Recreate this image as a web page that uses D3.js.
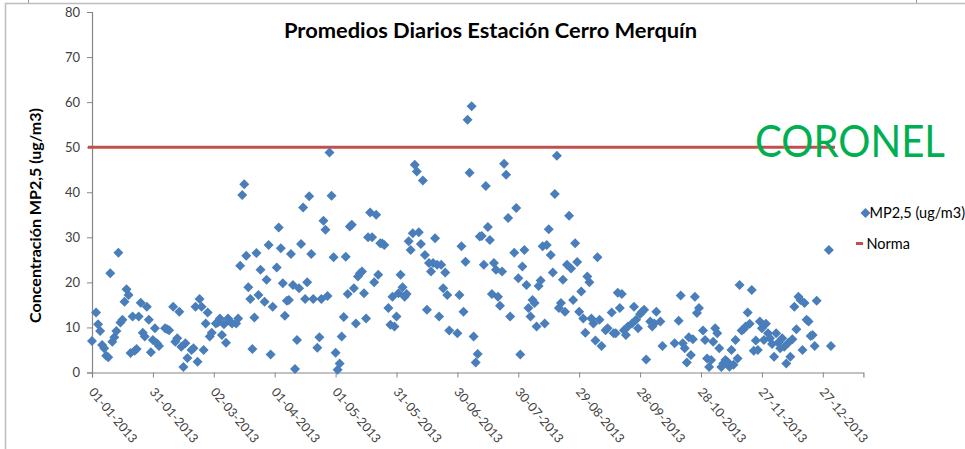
<!DOCTYPE html>
<html><head><meta charset="utf-8">
<script src="https://cdn.jsdelivr.net/npm/d3@7"></script>
<style>
html,body{margin:0;padding:0;background:#fff;}
svg{display:block;}
text{font-family:Lato,"Open Sans",sans-serif;}
</style></head>
<body>
<svg id="chart" width="965" height="449"></svg>
<script>
// ---- data ----
const startDate = "2013-01-01";
const dayOffsets = [0,2,3,4,5,6,7,8,9,10,11,12,13,14,15,16,17,18,19,20,21,22,23,24,25,26,27,28,29,30,31,32,33,36,37,38,40,41,42,43,44,45,46,47,49,50,51,52,53,54,55,56,57,58,59,61,62,63,64,65,66,67,68,69,71,72,73,74,75,76,77,78,79,80,81,82,83,85,86,87,88,89,91,92,93,94,95,96,97,98,99,100,101,102,103,104,105,106,107,108,109,111,112,113,114,115,116,117,118,119,120,121,122,123,124,125,126,127,128,129,130,131,132,133,134,135,136,137,138,139,140,141,142,143,144,146,147,148,149,150,151,152,153,154,155,156,157,158,159,160,161,162,163,164,165,166,167,168,169,170,171,172,173,174,175,176,180,181,182,183,184,185,186,187,188,189,190,191,192,193,194,195,196,197,198,199,200,201,202,203,204,205,206,208,209,210,211,212,213,214,215,216,217,218,219,220,221,222,223,224,225,226,227,228,229,230,231,232,233,234,235,236,237,238,239,240,241,242,243,244,245,246,247,248,249,250,251,253,254,256,257,258,259,260,261,262,263,264,266,267,268,269,270,271,272,273,275,276,277,278,280,281,287,289,290,291,292,293,294,295,296,297,298,299,301,302,303,304,305,306,307,308,309,310,311,312,313,314,315,316,317,318,319,320,321,322,323,324,325,326,327,328,329,330,331,332,333,334,335,336,337,338,339,340,341,342,343,344,345,346,347,348,349,350,351,352,353,354,355,356,357,363,364];
const mp25 = [7.0,13.3,10.7,9.2,6.1,5.4,3.7,3.4,22.0,6.8,7.8,9.2,26.6,11.1,11.7,15.7,18.5,17.2,4.3,12.4,4.8,5.2,12.4,15.5,8.8,8.0,14.6,11.7,4.5,7.2,9.8,6.5,5.9,9.8,9.6,9.4,14.6,6.8,7.6,13.5,5.7,1.2,6.5,3.2,5.0,5.4,14.6,2.4,16.3,14.6,5.0,10.9,13.3,8.0,8.8,10.9,11.1,12.0,8.3,10.7,6.6,12.0,11.3,10.9,10.9,12.0,23.7,39.4,41.8,25.9,18.9,16.3,5.2,12.2,26.5,17.2,22.8,15.7,20.6,28.3,4.0,14.6,23.3,32.2,27.6,19.8,12.6,15.9,16.1,26.3,19.4,0.8,7.2,18.7,28.5,36.6,16.3,20.0,39.1,26.3,16.3,5.5,7.8,16.3,33.7,31.7,17.0,48.8,39.2,25.6,4.4,0.6,2.0,8.0,12.3,25.7,17.4,32.4,32.8,18.7,10.9,21.3,22.0,22.4,17.6,12.0,30.0,35.5,30.0,20.0,35.0,21.7,28.7,28.6,28.3,14.3,10.6,16.8,10.2,12.4,17.6,21.7,18.9,16.8,17.4,29.1,27.2,30.9,46.1,44.6,31.1,28.5,42.6,26.1,13.9,24.3,22.4,24.3,29.8,23.9,12.4,23.9,18.7,22.2,17.2,9.3,8.7,17.2,28.0,13.5,24.6,56.1,44.3,59.1,8.0,2.2,4.1,30.2,30.3,23.9,41.4,32.3,29.4,17.4,24.3,22.8,16.8,14.8,22.4,46.3,43.9,34.3,12.4,26.6,36.5,20.9,4.0,23.5,27.2,19.4,14.3,12.4,16.1,15.4,10.2,19.2,20.4,28.0,10.9,28.3,31.8,26.1,22.2,39.6,48.1,14.3,15.4,20.6,13.5,23.9,34.8,23.1,16.1,28.7,24.5,13.5,18.0,12.0,8.8,21.3,20.0,12.0,10.9,7.1,25.6,11.7,5.9,9.4,9.8,13.3,8.7,8.7,17.7,14.3,17.4,9.4,8.3,10.2,10.9,14.6,11.7,9.8,13.0,13.5,13.9,2.9,11.3,10.2,10.9,13.5,11.3,5.9,6.5,11.5,17.1,6.5,5.4,2.2,7.8,3.9,7.4,16.8,13.2,14.3,9.3,7.2,3.1,1.2,2.8,6.8,9.8,8.7,5.4,1.2,2.0,2.8,2.4,1.3,5.0,1.7,7.2,3.1,19.4,9.3,9.6,10.2,13.3,10.8,18.3,4.8,7.1,5.0,11.3,9.8,7.2,10.8,8.7,7.6,6.3,3.5,8.7,6.6,5.4,7.6,5.7,2.0,6.6,3.5,7.4,14.6,9.6,16.8,16.1,5.0,15.4,11.7,11.3,8.1,8.3,5.9,15.9,27.2,5.9];
const normaDays = [-2, 366];
const normaValues = [50, 50];
const xTickDays = [0,30,60,90,120,150,180,210,240,270,300,330,360];
const xTickLabels = ["01-01-2013","31-01-2013","02-03-2013","01-04-2013","01-05-2013","31-05-2013","30-06-2013","30-07-2013","29-08-2013","28-09-2013","28-10-2013","27-11-2013","27-12-2013"];
const yTicks = [0,10,20,30,40,50,60,70,80];
const axisMaxDays = 380;
const seriesNames = ["MP2,5 (ug/m3)", "Norma"];
const titleText = "Promedios Diarios Estación Cerro Merquín";
const yTitle = "Concentración MP2,5 (ug/m3)";
const stampText = "CORONEL";

// ---- drawing ----
const svg = d3.select("#chart");
const day0 = new Date(startDate + "T00:00:00Z");
const toDate = d => d3.utcDay.offset(day0, d);

const x = d3.scaleUtc().domain([day0, toDate(axisMaxDays)]).range([92, 863.4]);
const y = d3.scaleLinear().domain([0, 80]).range([372.5, 12]);

const blue = "#4A7EBB", red = "#C0504D", axisCol = "#868686", txtCol = "#404040";

// outer frame
svg.append("rect").attr("x",5.5).attr("y",3.5).attr("width",975).attr("height",460)
  .attr("fill","none").attr("stroke","#BDBDBD").attr("stroke-width",1.5);
svg.append("line").attr("x1",28.5).attr("x2",28.5).attr("y1",0).attr("y2",3).attr("stroke","#9a9a9a");
svg.append("line").attr("x1",916.5).attr("x2",916.5).attr("y1",0).attr("y2",3).attr("stroke","#9a9a9a");

// y axis
const yAxis = svg.append("g").attr("transform","translate(92,0)")
  .call(d3.axisLeft(y).tickValues(yTicks).tickSize(5).tickPadding(7).tickFormat(d3.format("d")));
yAxis.select(".domain").attr("stroke",axisCol).attr("stroke-width",1.2);
yAxis.selectAll(".tick line").attr("stroke",axisCol);
yAxis.selectAll(".tick text").attr("fill",txtCol).style("font-size","13px").style("font-family","Lato, sans-serif");

// x axis
const xAxis = svg.append("g").attr("transform","translate(0,372.5)")
  .call(d3.axisBottom(x).tickValues(xTickDays.map(toDate)).tickSize(5)
    .tickFormat((d,i) => xTickLabels[i]));
xAxis.select(".domain").attr("stroke",axisCol).attr("stroke-width",1.2);
xAxis.selectAll(".tick line").attr("stroke",axisCol);
xAxis.selectAll(".tick text")
  .attr("fill",txtCol).style("font-size","12.5px").style("font-family","Lato, sans-serif")
  .attr("text-anchor","start").attr("y",0).attr("dy","0.35em")
  .attr("transform","translate(-1,17) rotate(50)");

// norma line
const line = d3.line().x(d => x(toDate(d[0]))).y(d => y(d[1]));
svg.append("path").datum(normaDays.map((d,i)=>[d, normaValues[i]]))
  .attr("d", line).attr("stroke", red).attr("stroke-width", 3).attr("fill","none");

// points
const sym = d3.symbol().type(d3.symbolSquare).size(50);
svg.append("g").selectAll("path").data(dayOffsets.map((d,i)=>({d, v: mp25[i]})))
  .join("path")
  .attr("d", sym)
  .attr("transform", p => `translate(${x(toDate(p.d))},${y(p.v)}) rotate(45)`)
  .attr("fill", blue);

// title
svg.append("text").attr("x",490.5).attr("y",38).attr("text-anchor","middle")
  .attr("textLength",413).attr("lengthAdjust","spacingAndGlyphs")
  .style("font-size","20px").style("font-weight","bold").attr("fill","#000").text(titleText);

// y title
svg.append("text").attr("transform","translate(41,215.5) rotate(-90)").attr("text-anchor","middle")
  .attr("textLength",215).attr("lengthAdjust","spacingAndGlyphs")
  .style("font-size","15px").style("font-weight","bold").attr("fill","#000").text(yTitle);

// stamp
svg.append("text").attr("x",755).attr("y",157).style("font-size","44px")
  .attr("textLength",190).attr("lengthAdjust","spacingAndGlyphs")
  .attr("fill","#00B050").text(stampText);

// legend
const leg = svg.append("g");
leg.append("path").attr("d", sym).attr("transform","translate(865.5,213) rotate(45)").attr("fill",blue);
leg.append("text").attr("x",869.5).attr("y",218).style("font-size","14.5px").attr("fill","#000").text(seriesNames[0]);
leg.append("line").attr("x1",856).attr("x2",863).attr("y1",243.5).attr("y2",243.5).attr("stroke",red).attr("stroke-width",3);
leg.append("text").attr("x",866.5).attr("y",248.5).style("font-size","14.5px").attr("fill","#000").text(seriesNames[1]);
</script>
</body></html>
